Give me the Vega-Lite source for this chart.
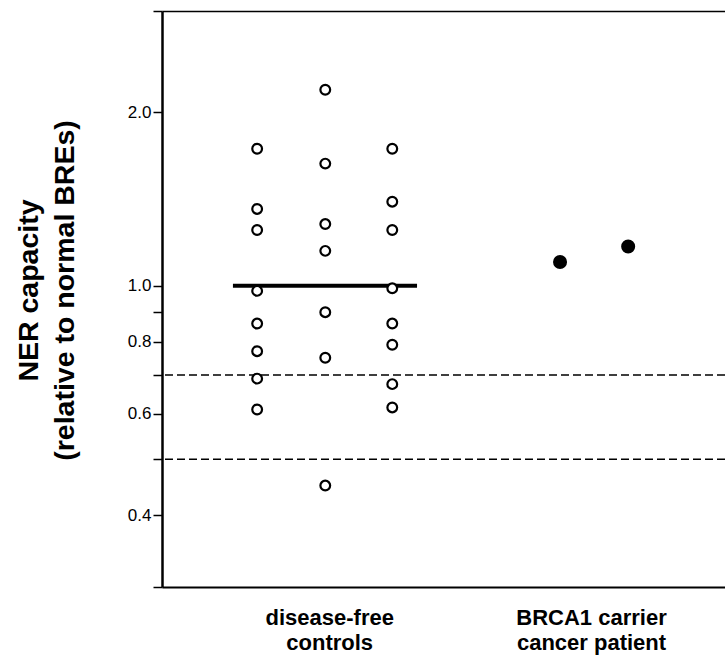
{
  "$schema": "https://vega.github.io/schema/vega-lite/v6.json",
  "width": 563,
  "height": 576,
  "autosize": {"type": "none"},
  "padding": {"left": 162, "top": 11, "right": 0, "bottom": 68},
  "background": "white",
  "config": {
    "view": {"stroke": null},
    "axis": {"grid": false, "labelFont": "Liberation Sans", "titleFont": "Liberation Sans", "labelColor": "black", "titleColor": "black", "domainColor": "black", "tickColor": "black"},
    "axisLeft": {
      "values": [0.4, 0.5, 0.6, 0.7, 0.8, 0.9, 1, 2],
      "labelExpr": "indexof([0.4, 0.6, 0.8, 1, 2], datum.value) >= 0 ? format(datum.value, '.1f') : ''",
      "labelOverlap": false, "tickSize": 9, "tickWidth": 1.5, "labelPadding": 2, "labelFontSize": 17,
      "domainWidth": 2.5,
      "titleFontSize": 28.5, "titleFontWeight": "bold", "titleLineHeight": 36,
      "titleAngle": -90, "titleX": -134, "titleY": 279, "titleAlign": "center", "titleBaseline": "middle"
    }
  },
  "resolve": {"axis": {"x": "independent"}},
  "layer": [
    {
      "data": {"values": [{"threshold": 0.7}, {"threshold": 0.5}]},
      "mark": {"type": "rule", "strokeDash": [8, 4], "strokeWidth": 1.5, "color": "black"},
      "encoding": {
        "y": {"field": "threshold", "type": "quantitative", "scale": {"type": "log", "domain": [0.3, 3], "nice": false}, "title": ["NER capacity", "(relative to normal BREs)"]}
      }
    },
    {
      "data": {"values": [{"start": 1.26, "end": 4.53, "mean": 1.0}]},
      "mark": {"type": "rule", "strokeWidth": 4, "color": "black"},
      "encoding": {
        "x": {"field": "start", "type": "quantitative", "scale": {"domain": [0, 10], "nice": false, "zero": false}, "axis": {"orient": "top", "labels": false, "ticks": false, "title": null, "domainWidth": 1.5}},
        "x2": {"field": "end"},
        "y": {"field": "mean", "type": "quantitative", "scale": {"type": "log", "domain": [0.3, 3], "nice": false}, "title": ["NER capacity", "(relative to normal BREs)"]}
      }
    },
    {
      "data": {"values": [
        {"group": "disease-free controls", "position": 1.69, "capacity": 1.73},
        {"group": "disease-free controls", "position": 1.69, "capacity": 1.36},
        {"group": "disease-free controls", "position": 1.69, "capacity": 1.25},
        {"group": "disease-free controls", "position": 1.69, "capacity": 0.98},
        {"group": "disease-free controls", "position": 1.69, "capacity": 0.86},
        {"group": "disease-free controls", "position": 1.69, "capacity": 0.77},
        {"group": "disease-free controls", "position": 1.69, "capacity": 0.69},
        {"group": "disease-free controls", "position": 1.69, "capacity": 0.61},
        {"group": "disease-free controls", "position": 2.9, "capacity": 2.19},
        {"group": "disease-free controls", "position": 2.9, "capacity": 1.63},
        {"group": "disease-free controls", "position": 2.9, "capacity": 1.28},
        {"group": "disease-free controls", "position": 2.9, "capacity": 1.15},
        {"group": "disease-free controls", "position": 2.9, "capacity": 0.9},
        {"group": "disease-free controls", "position": 2.9, "capacity": 0.75},
        {"group": "disease-free controls", "position": 2.9, "capacity": 0.45},
        {"group": "disease-free controls", "position": 4.09, "capacity": 1.73},
        {"group": "disease-free controls", "position": 4.09, "capacity": 1.4},
        {"group": "disease-free controls", "position": 4.09, "capacity": 1.25},
        {"group": "disease-free controls", "position": 4.09, "capacity": 0.99},
        {"group": "disease-free controls", "position": 4.09, "capacity": 0.86},
        {"group": "disease-free controls", "position": 4.09, "capacity": 0.79},
        {"group": "disease-free controls", "position": 4.09, "capacity": 0.675},
        {"group": "disease-free controls", "position": 4.09, "capacity": 0.615},
        {"group": "BRCA1 carrier cancer patient", "position": 7.07, "capacity": 1.1},
        {"group": "BRCA1 carrier cancer patient", "position": 8.28, "capacity": 1.17}
      ]},
      "mark": {"type": "point", "shape": "circle", "filled": true, "stroke": "black", "strokeWidth": 2.2, "opacity": 1},
      "encoding": {
        "x": {
          "field": "position", "type": "quantitative",
          "scale": {"domain": [0, 10], "nice": false, "zero": false},
          "axis": {
            "orient": "bottom", "values": [2.97, 7.62],
            "labelExpr": "datum.value < 5 ? ['disease-free', 'controls'] : ['BRCA1 carrier', 'cancer patient']",
            "ticks": false, "tickSize": 0, "labelPadding": 20, "labelFontSize": 22, "labelFontWeight": "bold",
            "labelLineHeight": 25, "labelOverlap": false, "domainWidth": 2, "title": null
          }
        },
        "y": {
          "field": "capacity", "type": "quantitative",
          "scale": {"type": "log", "domain": [0.3, 3], "nice": false},
          "title": ["NER capacity", "(relative to normal BREs)"]
        },
        "fill": {"field": "group", "type": "nominal", "scale": {"domain": ["disease-free controls", "BRCA1 carrier cancer patient"], "range": ["white", "black"]}, "legend": null},
        "size": {"field": "group", "type": "nominal", "scale": {"domain": ["disease-free controls", "BRCA1 carrier cancer patient"], "range": [95, 140]}, "legend": null}
      }
    }
  ]
}
